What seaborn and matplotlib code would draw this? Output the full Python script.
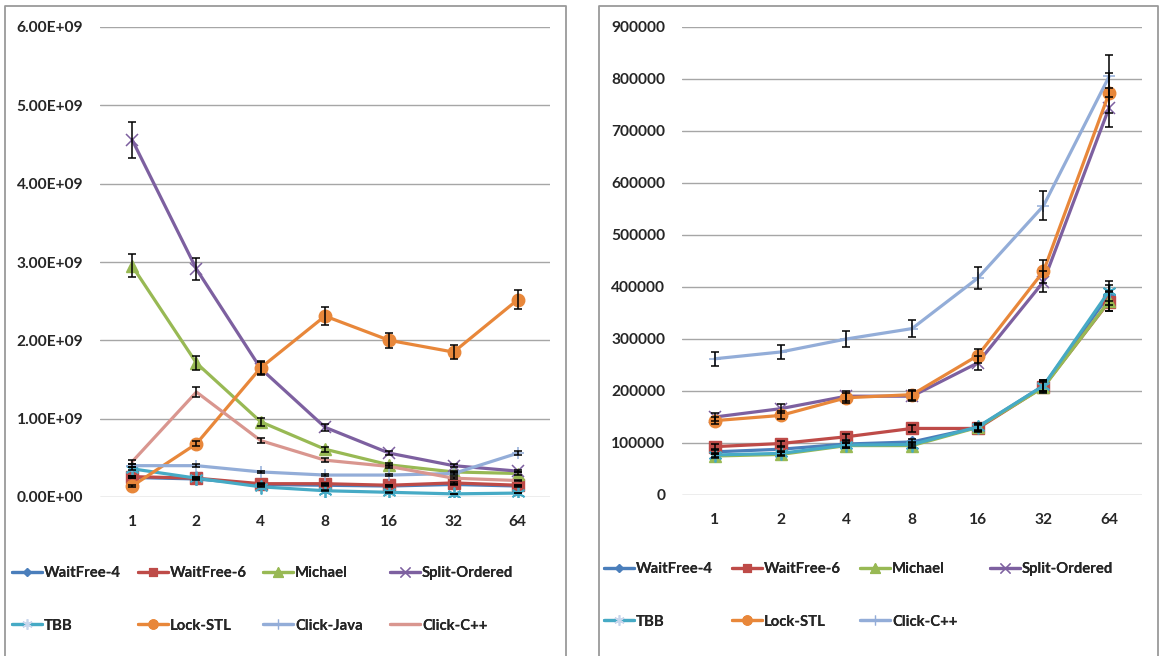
import matplotlib
matplotlib.use("Agg")
import matplotlib.pyplot as plt
from matplotlib.lines import Line2D
from matplotlib.ticker import FixedLocator, FuncFormatter
import numpy as np
import seaborn as sns

# ---------------------------------------------------------------- data
threads = ["1", "2", "4", "8", "16", "32", "64"]

# left panel: operations (absolute counts)
l_waitfree4 = [0.25e9, 0.23e9, 0.16e9, 0.15e9, 0.14e9, 0.16e9, 0.14e9]
l_waitfree6 = [0.26e9, 0.24e9, 0.17e9, 0.17e9, 0.15e9, 0.18e9, 0.15e9]
l_michael = [2.95e9, 1.71e9, 0.96e9, 0.61e9, 0.41e9, 0.32e9, 0.30e9]
l_split = [4.56e9, 2.91e9, 1.64e9, 0.89e9, 0.56e9, 0.40e9, 0.33e9]
l_tbb = [0.36e9, 0.24e9, 0.13e9, 0.08e9, 0.06e9, 0.04e9, 0.05e9]
l_lock = [0.14e9, 0.68e9, 1.65e9, 2.31e9, 2.00e9, 1.85e9, 2.52e9]
l_click_java = [0.40e9, 0.40e9, 0.32e9, 0.28e9, 0.28e9, 0.30e9, 0.56e9]
l_click_cpp = [0.45e9, 1.34e9, 0.72e9, 0.47e9, 0.39e9, 0.24e9, 0.21e9]

# right panel
r_waitfree4 = [83000, 88000, 98000, 102000, 130000, 210000, 385000]
r_waitfree6 = [93000, 99000, 112000, 128000, 128000, 208000, 372000]
r_michael = [75000, 78000, 95000, 95000, 130000, 207000, 373000]
r_split = [150000, 166000, 190000, 190000, 254000, 410000, 745000]
r_tbb = [77000, 80000, 96000, 97000, 131000, 210000, 392000]
r_lock = [143000, 153000, 187000, 193000, 268000, 430000, 773000]
r_click_cpp = [262000, 275000, 300000, 320000, 417000, 556000, 805000]

ERR_FRACTION = 0.05  # error bars: +/- 5 % of each value

# ---------------------------------------------------------------- styles
C_BLUE = "#4A7EBB"
C_RED = "#BE4B48"
C_GREEN = "#98B954"
C_PURPLE = "#7D60A0"
C_TEAL = "#46AAC5"
C_ORANGE = "#E8873A"
C_LBLUE = "#93ADD8"
C_PINK = "#D9968F"

STAR = (6, 2, 0)

styles = {
    "WaitFree-4": dict(color=C_BLUE, marker="D", ms=6, mew=1),
    "WaitFree-6": dict(color=C_RED, marker="s", ms=8.5, mew=1),
    "Michael": dict(color=C_GREEN, marker="^", ms=9, mew=1),
    "Split-Ordered": dict(color=C_PURPLE, marker="x", ms=9, mew=1.1),
    "TBB": dict(color=C_TEAL, marker=STAR, ms=10, mew=1.3),
    "Lock-STL": dict(color=C_ORANGE, marker="o", ms=9, mew=1),
    "Click-Java": dict(color=C_LBLUE, marker="+", ms=9, mew=1.1),
    "Click-C++": dict(color=C_PINK, marker=None, ms=0, mew=0),
}
right_cpp_style = dict(color=C_LBLUE, marker="+", ms=9, mew=1.1)

left_series = [
    ("WaitFree-4", l_waitfree4), ("WaitFree-6", l_waitfree6),
    ("Michael", l_michael), ("Split-Ordered", l_split),
    ("TBB", l_tbb), ("Lock-STL", l_lock),
    ("Click-Java", l_click_java), ("Click-C++", l_click_cpp),
]
right_series = [
    ("WaitFree-4", r_waitfree4), ("WaitFree-6", r_waitfree6),
    ("Michael", r_michael), ("Split-Ordered", r_split),
    ("TBB", r_tbb), ("Lock-STL", r_lock), ("Click-C++", r_click_cpp),
]

# ---------------------------------------------------------------- figure
sns.set_theme(style="white")
plt.rcParams["font.family"] = ["Lato", "DejaVu Sans"]
plt.rcParams["font.weight"] = "bold"

W, H = 1159, 656
fig = plt.figure(figsize=(W / 100, H / 100), dpi=100)
fig.patch.set_facecolor("white")


def px_box(x0, y0, x1, y1):
    return [x0 / W, 1 - y1 / H, (x1 - x0) / W, (y1 - y0) / H]


ax_l = fig.add_axes(px_box(100, 27, 550, 497))
ax_r = fig.add_axes(px_box(682, 27, 1142, 495))

LW = 2.3
FS_TICK = 11.2
FS_LEG = 10.7
x_pos = np.arange(len(threads))


def legend_edge(st):
    if st["marker"] == STAR:
        return "#C8D6EC"
    return st["color"]


def draw_panel(ax, series, style_for, ymax, ystep, fmt):
    handles = []
    for name, vals in series:
        st = style_for(name)
        vals = np.asarray(vals, dtype=float)
        sns.lineplot(x=x_pos, y=vals, ax=ax, color=st["color"],
                     marker=st["marker"], markersize=st["ms"],
                     markeredgecolor=st["color"], markerfacecolor=st["color"],
                     markeredgewidth=st["mew"], linewidth=LW, legend=False,
                     zorder=3)
        handles.append(Line2D([], [], color=st["color"], lw=LW,
                              marker=st["marker"],
                              markersize=st["ms"] * 0.75 if st["marker"] else 0,
                              markeredgecolor=legend_edge(st),
                              markerfacecolor=st["color"],
                              markeredgewidth=st["mew"] * 0.8, label=name))
    for name, vals in series:
        vals = np.asarray(vals, dtype=float)
        ax.errorbar(x_pos, vals, yerr=vals * ERR_FRACTION, fmt="none",
                    ecolor="black", elinewidth=1.1, capsize=3, capthick=1.1,
                    zorder=5)
    ax.set_xlim(-0.5, len(threads) - 0.5)
    ax.set_ylim(0, ymax)
    ax.xaxis.set_major_locator(FixedLocator(x_pos))
    ax.set_xticklabels(threads)
    ax.yaxis.set_major_locator(FixedLocator(np.arange(0, ymax + ystep / 2, ystep)))
    ax.yaxis.set_major_formatter(FuncFormatter(fmt))
    ax.yaxis.grid(True, color="#A6A6A6", lw=1.0)
    ax.xaxis.grid(False)
    for sp in ax.spines.values():
        sp.set_visible(False)
    ax.tick_params(axis="y", length=0, pad=12, labelsize=FS_TICK)
    ax.tick_params(axis="x", length=0, pad=13, labelsize=FS_TICK)
    for lab in ax.get_xticklabels() + ax.get_yticklabels():
        lab.set_fontweight("bold")
    ax.set_xlabel("")
    ax.set_ylabel("")
    ax.set_facecolor("white")
    return handles


h_left = draw_panel(ax_l, left_series, lambda n: styles[n], 6e9, 1e9,
                    lambda v, p: f"{v:.2E}")
h_right = draw_panel(ax_r, right_series,
                     lambda n: right_cpp_style if n == "Click-C++" else styles[n],
                     900000, 100000, lambda v, p: f"{int(round(v))}")


def place_legend(handles, col_x, top_y):
    # two-row legend laid out column by column
    ncols = len(col_x)
    for c in range(ncols):
        hs = [h for i, h in enumerate(handles) if i % ncols == c]
        if not hs:
            continue
        leg = fig.legend(handles=hs, loc="upper left",
                         bbox_to_anchor=(col_x[c] / W, 1 - top_y / H),
                         frameon=False, handlelength=2.0,
                         handletextpad=0.15, borderpad=0, borderaxespad=0,
                         labelspacing=2.6,
                         prop=dict(family=["Lato", "DejaVu Sans"], weight="bold", size=FS_LEG))
        fig.add_artist(leg)


place_legend(h_left, [12, 138, 263, 390], 566)
place_legend(h_right, [604, 732, 860, 990], 562)

# panel frames (open at the bottom edge)
FRAME = "#9A9A9A"
for x0, x1 in [(4.5, 565.5), (598.5, 1157.5)]:
    fig.add_artist(Line2D([x0 / W, x0 / W, x1 / W, x1 / W],
                          [0, 1 - 6 / H, 1 - 6 / H, 0],
                          transform=fig.transFigure, color=FRAME, lw=1.3))

fig.savefig("out.png", dpi=100, facecolor="white")
